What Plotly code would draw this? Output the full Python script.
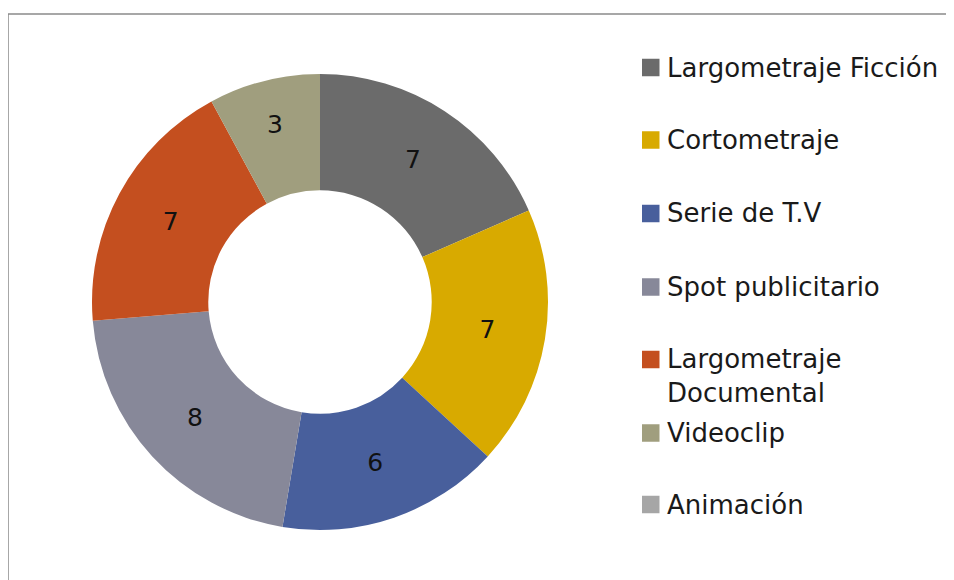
import plotly.graph_objects as go

W, H = 954, 580
OFF = 8  # page offset of the plot inside the browser window

categories = ["Largometraje Ficción", "Cortometraje", "Serie de T.V", "Spot publicitario",
              "Largometraje Documental", "Videoclip", "Animación"]
legend_labels = ["Largometraje Ficción", "Cortometraje", "Serie de T.V", "Spot publicitario",
                 "Largometraje<br>Documental", "Videoclip", "Animación"]
values = [7, 7, 6, 8, 7, 3, 0]
colors = ["#6b6b6b", "#d8aa00", "#485f9c", "#878899", "#c44f1f", "#a09e7e", "#a6a6a6"]

FONT = "DejaVu Sans"


def px(x):
    return (x - OFF) / W


def py(y):
    return 1 - (y - OFF) / H


# pie geometry in screen pixels
cx, cy, r = 320, 302, 228
dom_x = [px(cx - r), px(cx + r)]
dom_y = [py(cy + r), py(cy - r)]

texts = [str(v) if v > 0 else "" for v in values]

fig = go.Figure(go.Pie(
    labels=categories,
    values=values,
    text=texts,
    textinfo="text",
    textposition="inside",
    insidetextorientation="horizontal",
    textfont=dict(family=FONT, size=25, color="#111111"),
    marker=dict(colors=colors, line=dict(width=0)),
    hole=0.49,
    sort=False,
    direction="clockwise",
    rotation=0,
    domain=dict(x=dom_x, y=dom_y),
    showlegend=False,
    hoverinfo="label+value",
))

shapes = []
annotations = []

# chart border (top and left visible)
shapes.append(dict(type="rect", xref="paper", yref="paper",
                   x0=px(8), x1=px(W + 30), y0=py(H + 30), y1=py(14),
                   line=dict(color="#8a8a8a", width=1.5), fillcolor="rgba(0,0,0,0)"))

# custom legend
marker_y = [67.5, 140, 213.5, 287, 359.5, 433, 504.5]
mx0, msize = 642, 17.5
for i, (lab, col) in enumerate(zip(legend_labels, colors)):
    yc = marker_y[i]
    shapes.append(dict(type="rect", xref="paper", yref="paper",
                       x0=px(mx0), x1=px(mx0 + msize),
                       y0=py(yc + msize / 2), y1=py(yc - msize / 2),
                       line=dict(width=0), fillcolor=col))
    ty = yc + 16 if "<br>" in lab else yc
    annotations.append(dict(xref="paper", yref="paper", x=px(665), y=py(ty),
                            xanchor="left", yanchor="middle", align="left",
                            text=lab, showarrow=False,
                            font=dict(family=FONT, size=26, color="#1a1a1a")))

fig.update_layout(
    width=W, height=H,
    margin=dict(l=0, r=0, t=0, b=0),
    paper_bgcolor="white",
    plot_bgcolor="white",
    shapes=shapes,
    annotations=annotations,
)

fig.write_html("out.html")
